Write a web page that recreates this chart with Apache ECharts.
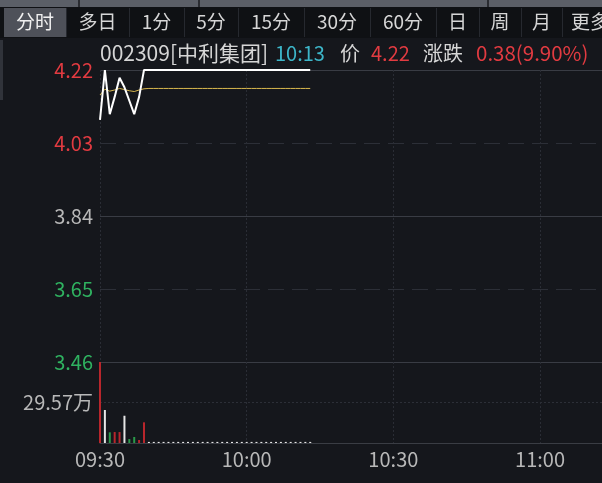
<!DOCTYPE html>
<html><head><meta charset="utf-8">
<script src="https://cdn.jsdelivr.net/npm/echarts@6/dist/echarts.min.js"></script>
<style>html,body{margin:0;padding:0;background:#15171c;}#c{width:602px;height:483px;}</style>
</head><body><div id="c"></div>
<script>
// ---- data ----
const prevClose = 3.84;
const priceTicks = ['4.22', '4.03', '3.84', '3.65', '3.46'];
const volTickLabel = '29.57万';
const volMax = 59.14; // 万
const timeLabels = ['09:30', '10:00', '10:30', '11:00', '11:30'];
const prices = [4.09, 4.22, 4.105, 4.15, 4.20, 4.175, 4.14, 4.105, 4.15, 4.22,
  4.22, 4.22, 4.22, 4.22, 4.22, 4.22, 4.22, 4.22, 4.22, 4.22,
  4.22, 4.22, 4.22, 4.22, 4.22, 4.22, 4.22, 4.22, 4.22, 4.22,
  4.22, 4.22, 4.22, 4.22, 4.22, 4.22, 4.22, 4.22, 4.22, 4.22,
  4.22, 4.22, 4.22, 4.22];
const avgPrices = [4.155, 4.170, 4.165, 4.168, 4.172, 4.169, 4.166, 4.164, 4.168, 4.171,
  4.172, 4.172, 4.172, 4.172, 4.172, 4.172, 4.172, 4.172, 4.172, 4.172,
  4.172, 4.172, 4.172, 4.172, 4.172, 4.172, 4.172, 4.172, 4.172, 4.172,
  4.172, 4.172, 4.172, 4.172, 4.172, 4.172, 4.172, 4.172, 4.172, 4.172,
  4.172, 4.172, 4.172, 4.172];
const volumes = [59.1, 24.1, 7.8, 8.0, 8.0, 19.9, 2.9, 4.4, 2.2, 15.1,
  0.8, 0.8, 0.8, 0.8, 0.8, 0.8, 0.8, 0.8, 0.8, 0.8,
  0.8, 0.8, 0.8, 0.8, 0.8, 0.8, 0.8, 0.8, 0.8, 0.8,
  0.8, 0.8, 0.8, 0.8, 0.8, 0.8, 0.8, 0.8, 0.8, 0.8,
  0.8, 0.8, 0.8, 0.8];
// 1 = up (red), 0 = flat (white), -1 = down (green)
const volDir = [1, 0, -1, 1, 1, 0, -1, -1, 1, 1,
  0, 0, 0, 0, 0, 0, 0, 0, 0, 0,
  0, 0, 0, 0, 0, 0, 0, 0, 0, 0,
  0, 0, 0, 0, 0, 0, 0, 0, 0, 0,
  0, 0, 0, 0];
const tabs = ['分时', '多日', '1分', '5分', '15分', '30分', '60分', '日', '周', '月', '更多'];
const header = { code: '002309[中利集团]', time: '10:13', priceLbl: '价', price: '4.22', chgLbl: '涨跌', chg: '0.38(9.90%)' };

// ---- build ----
const minutes = [];
for (let h = 9, m = 30; h < 11 || (h === 11 && m <= 30);) {
  minutes.push(String(h).padStart(2, '0') + ':' + String(m).padStart(2, '0'));
  m++; if (m === 60) { m = 0; h++; }
}
const FONT = '"Noto Sans CJK SC", "Noto Sans", sans-serif';
const RED = '#e23b41', GREEN = '#2fb260', GRAY = '#b8b8b8';
const dirColor = d => d > 0 ? '#b8262c' : (d < 0 ? '#2a9a4a' : '#e6e6e6');
const step = 0.19;
const left = 100, gw = 586.7;

const tabX = [4, 66, 129, 184, 238, 304, 370, 436, 479, 521, 562, 640];
const graphic = [
  { type: 'rect', shape: { x: 0, y: 0, width: 602, height: 7 }, style: { fill: '#5b5f67' } },
  { type: 'rect', shape: { x: 78, y: 0, width: 2, height: 7 }, style: { fill: '#2a2c31' } },
  { type: 'rect', shape: { x: 198, y: 0, width: 2, height: 7 }, style: { fill: '#2a2c31' } },
  { type: 'rect', shape: { x: 487, y: 0, width: 2, height: 7 }, style: { fill: '#2a2c31' } },
  { type: 'rect', shape: { x: 0, y: 7, width: 602, height: 31 }, style: { fill: '#0f1114' } },
  { type: 'rect', shape: { x: 4, y: 8, width: 62, height: 29 }, style: { fill: '#4e5159' } },
  { type: 'rect', shape: { x: 0, y: 40, width: 3, height: 60 }, style: { fill: '#30333a' } }
];
for (let i = 1; i < tabX.length - 1; i++) {
  graphic.push({ type: 'rect', shape: { x: tabX[i], y: 8, width: 1, height: 29 }, style: { fill: '#26292f' } });
}
tabs.forEach((t, i) => {
  const last = i === tabs.length - 1;
  graphic.push({ type: 'text', x: last ? 571 : (tabX[i] + tabX[i + 1]) / 2, y: 22,
    style: { text: t, fill: i === 0 ? '#f0f0f0' : '#d6d6d6', font: '19px ' + FONT, align: last ? 'left' : 'center', verticalAlign: 'middle' } });
});
const hdr = [
  [header.code, 100, '#d6d6d6', 21], [header.time, 275, '#3db6c9', 20], [header.priceLbl, 340, '#d6d6d6', 20],
  [header.price, 371, RED, 20], [header.chgLbl, 423, '#d6d6d6', 20], [header.chg, 476, RED, 20.5]
];
hdr.forEach(h => graphic.push({ type: 'text', x: h[1], y: 53,
  style: { text: h[0], fill: h[2], font: h[3] + 'px ' + FONT, align: 'left', verticalAlign: 'middle' } }));

const vLines = { show: true, interval: (i) => i % 30 === 0, lineStyle: { color: '#2a2d35', type: [2, 2], width: 1 } };

const option = {
  backgroundColor: '#15171c',
  animation: false,
  textStyle: { fontFamily: FONT },
  graphic: graphic,
  grid: [
    { left: left, top: 70, width: gw, height: 292, containLabel: false, outerBoundsMode: 'none' },
    { left: left, top: 362, width: gw, height: 81, containLabel: false, outerBoundsMode: 'none' }
  ],
  xAxis: [
    { type: 'category', gridIndex: 0, data: minutes, boundaryGap: false,
      axisLine: { show: false }, axisTick: { show: false }, axisLabel: { show: false }, splitLine: vLines },
    { type: 'category', gridIndex: 1, data: minutes, boundaryGap: false,
      axisLine: { show: true, lineStyle: { color: '#3a3d44' } }, axisTick: { show: false },
      axisLabel: { show: true, interval: (i, v) => timeLabels.indexOf(v) >= 0, color: GRAY, fontSize: 20, margin: 6, fontFamily: FONT },
      splitLine: vLines }
  ],
  yAxis: [
    { type: 'value', gridIndex: 0, min: -2 * step, max: 2 * step, interval: step,
      axisLine: { show: false }, axisTick: { show: false },
      axisLabel: { margin: 7, fontSize: 20, fontFamily: FONT,
        formatter: (v) => priceTicks[Math.round((2 * step - v) / step)],
        color: (v) => { const k = Math.round((2 * step - v) / step); return k < 2 ? RED : (k === 2 ? GRAY : GREEN); } },
      splitLine: { show: true, lineStyle: { color: '#2c2f37', type: [16, 8] } } },
    { type: 'value', gridIndex: 1, min: 0, max: volMax, interval: volMax / 2,
      axisLine: { show: false }, axisTick: { show: false },
      axisLabel: { margin: 7, fontSize: 20, color: GRAY, fontFamily: FONT,
        formatter: (v) => Math.abs(v - volMax / 2) < 0.01 ? volTickLabel : '' },
      splitLine: { show: true, showMinLine: false, showMaxLine: false, lineStyle: { color: '#2c2f37', type: [2, 2] } } },
    { type: 'value', gridIndex: 0, min: -2 * step, max: 2 * step, interval: 2 * step,
      axisLine: { show: false }, axisTick: { show: false }, axisLabel: { show: false },
      splitLine: { show: true, lineStyle: { color: '#393c44', width: 1 } } }
  ],
  series: [
    { type: 'bar', xAxisIndex: 1, yAxisIndex: 1, barWidth: 2, clip: false,
      data: volumes.map((v, i) => ({ value: v, itemStyle: { color: dirColor(volDir[i]) } })) },
    { type: 'line', xAxisIndex: 0, yAxisIndex: 0, showSymbol: false, clip: false,
      data: avgPrices.map(p => +(p - prevClose).toFixed(4)),
      lineStyle: { color: '#d9b84e', width: 1 } },
    { type: 'line', xAxisIndex: 0, yAxisIndex: 0, showSymbol: false, clip: false,
      data: prices.map(p => +(p - prevClose).toFixed(4)),
      lineStyle: { color: '#ffffff', width: 2 } }
  ]
};
const chart = echarts.init(document.getElementById('c'), null, { renderer: 'canvas' });
chart.setOption(option);
</script></body></html>
